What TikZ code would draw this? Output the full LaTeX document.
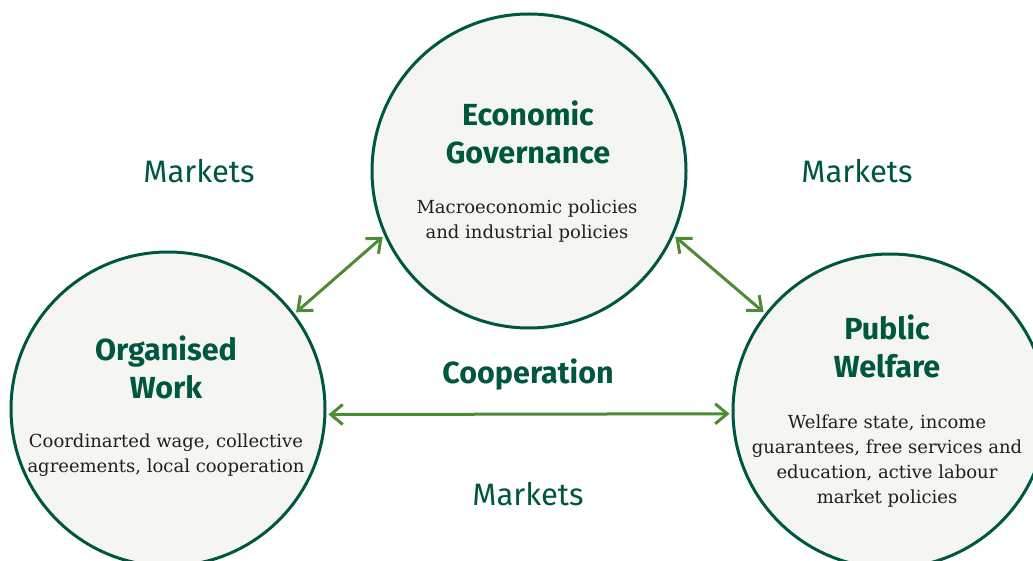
\documentclass[tikz,border=0pt]{standalone}
\usepackage{fontspec}
\setmainfont{DejaVu Serif}
\setsansfont{Fira Sans}
\usetikzlibrary{arrows.meta}
\definecolor{pinegreen}{HTML}{00573F}
\definecolor{leafgreen}{HTML}{4E8B37}
\definecolor{paper}{HTML}{F5F6F1}

\begin{document}
\begin{tikzpicture}[
  x=1pt,y=-1pt,
  >={Straight Barb[length=12pt,width=20pt,line width=3pt]},
  pillar/.style={circle,draw=pinegreen,line width=3pt,fill=paper,minimum size=314pt,inner sep=0pt},
  head/.style={align=center,text=pinegreen,font=\sffamily\bfseries\fontsize{30.5}{38}\selectfont},
  body/.style={align=center,text=black!88,font=\fontsize{18}{25}\selectfont},
  tie/.style={<->,leafgreen,line width=3pt,shorten <=2pt,shorten >=2pt},
  market/.style={text=pinegreen,font=\sffamily\fontsize{31}{32}\selectfont}
]
\useasboundingbox (0,0) rectangle (1033,561);
\clip (0,0) rectangle (1033,561);
\node[pillar] (eg) at (529,171) {};
\node[pillar] (ow) at (168,409) {};
\node[pillar] (pw) at (890,411) {};
% texts inside the circles
\node[head] (eg-h) at (528,132) {Economic\\Governance};
\node[body] (eg-b) at (527,221) {Macroeconomic policies\\and industrial policies};
\node[head] (ow-h) at (166,367) {Organised\\Work};
\node[body] (ow-b) at (166,455) {Coordinarted wage, collective\\agreements, local cooperation};
\node[head] (pw-h) at (887,346) {Public\\Welfare};
\node[body] (pw-b) at (887,461) {Welfare state, income\\guarantees, free services and\\education, active labour\\market policies};
% links between the pillars
\draw[tie] (ow.37) -- (eg.204);
\draw[tie] (eg.336) -- (pw.142);
\draw[tie] (ow.-2.5) -- (pw.181.5);
\node[head] (coop) at (528,375) {Cooperation};
\foreach \n/\x/\y in {mk-l/199/171,mk-r/857/171,mk-b/528/494} {
  \node[market] (\n) at (\x,\y) {Markets};
}
\end{tikzpicture}
\end{document}
